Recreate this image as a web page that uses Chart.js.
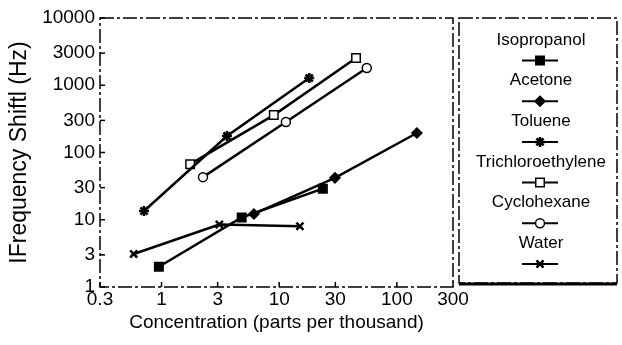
<!DOCTYPE html>
<html>
<head>
<meta charset="utf-8">
<script src="https://cdn.jsdelivr.net/npm/chart.js@4/dist/chart.umd.min.js"></script>
<style>
  html, body { margin: 0; padding: 0; background: #fff; }
  #wrap { width: 622px; height: 345px; }
</style>
</head>
<body>
<div id="wrap"><canvas id="grafico" width="622" height="345"></canvas></div>
<script>
// Dados (escala log nos dois eixos)
const seriesNames = ['Isopropanol', 'Acetone', 'Toluene', 'Trichloroethylene', 'Cyclohexane', 'Water'];

const isopropanolX = [0.95, 4.8, 23.5];
const isopropanolY = [2.0, 10.8, 29];
const acetoneX = [6.1, 29.8, 148];
const acetoneY = [12.2, 42, 195];
const tolueneX = [0.71, 3.6, 18];
const tolueneY = [13.5, 176, 1280];
const trichloroX = [1.75, 9.0, 45];
const trichloroY = [67, 360, 2540];
const cyclohexaneX = [2.25, 11.4, 55.5];
const cyclohexaneY = [43, 284, 1800];
const waterX = [0.58, 3.1, 15];
const waterY = [3.1, 8.5, 8.0];

const xTicks = [0.3, 1, 3, 10, 30, 100, 300];
const yTicks = [1, 3, 10, 30, 100, 300, 1000, 3000, 10000];

const FONT = '"Liberation Sans", Arial, Helvetica, sans-serif';

function pares(xs, ys) {
    return xs.map((x, i) => ({ x: x, y: ys[i] }));
}

function serie(nome, xs, ys, estilo, raio, preenchido) {
    return {
        label: nome,
        data: pares(xs, ys),
        showLine: true,
        borderColor: '#000',
        borderWidth: 2.5,
        pointStyle: estilo,
        pointRadius: raio,
        pointBorderWidth: estilo === 'star' || estilo === 'crossRot' ? 2.5 : 1.5,
        pointBackgroundColor: preenchido ? '#000' : '#fff',
        pointBorderColor: '#000',
        tension: 0
    };
}

const datasets = [
    serie(seriesNames[0], isopropanolX, isopropanolY, 'rect', 6, true),
    serie(seriesNames[1], acetoneX, acetoneY, 'rectRot', 5, true),
    serie(seriesNames[2], tolueneX, tolueneY, 'star', 5, true),
    serie(seriesNames[3], trichloroX, trichloroY, 'rect', 6, false),
    serie(seriesNames[4], cyclohexaneX, cyclohexaneY, 'circle', 4.5, false),
    serie(seriesNames[5], waterX, waterY, 'crossRot', 5, false)
];

// moldura tracejada e ticks para dentro
const moldura = {
    id: 'moldura',
    beforeDatasetsDraw(chart) {
        const ctx = chart.ctx;
        const a = chart.chartArea;
        const xs = chart.scales.x, ys = chart.scales.y;
        ctx.save();
        ctx.strokeStyle = '#000';
        ctx.lineWidth = 1.5;
        ctx.setLineDash([14, 3, 3, 3]);
        ctx.strokeRect(a.left, a.top, a.right - a.left, a.bottom - a.top);
        ctx.setLineDash([]);
        ctx.lineWidth = 1.5;
        yTicks.forEach(v => {
            const y = ys.getPixelForValue(v);
            ctx.beginPath(); ctx.moveTo(a.left, y); ctx.lineTo(a.left + 5, y); ctx.stroke();
        });
        xTicks.forEach(v => {
            const x = xs.getPixelForValue(v);
            ctx.beginPath(); ctx.moveTo(x, a.bottom); ctx.lineTo(x, a.bottom - 5); ctx.stroke();
        });
        ctx.restore();
    }
};

// legenda em caixa à direita, marcador abaixo do nome
const legendaCaixa = {
    id: 'legendaCaixa',
    afterDraw(chart) {
        const ctx = chart.ctx;
        const bx = 459, by = 18, bw = 158, bh = 265;
        ctx.save();
        ctx.strokeStyle = '#000';
        ctx.lineWidth = 1.5;
        ctx.setLineDash([14, 3, 3, 3]);
        ctx.strokeRect(bx, by, bw, bh);
        ctx.setLineDash([]);
        ctx.lineWidth = 3;
        ctx.beginPath(); ctx.moveTo(bx, by + bh + 1); ctx.lineTo(bx + bw, by + bh + 1); ctx.stroke();
        ctx.font = '17px ' + FONT;
        ctx.fillStyle = '#000';
        ctx.textAlign = 'center';
        ctx.textBaseline = 'middle';
        const cx = 540;
        chart.data.datasets.forEach((ds, i) => {
            const ty = 40 + i * 40.7;
            const my = ty + 20.5;
            ctx.fillText(ds.label, cx + 1, ty);
            ctx.strokeStyle = '#000';
            ctx.lineWidth = 2;
            ctx.beginPath(); ctx.moveTo(cx - 18, my); ctx.lineTo(cx + 18, my); ctx.stroke();
            ctx.fillStyle = ds.pointBackgroundColor;
            ctx.lineWidth = ds.pointBorderWidth;
            Chart.helpers.drawPoint(ctx, {
                pointStyle: ds.pointStyle,
                radius: ds.pointRadius,
                rotation: 0,
                borderWidth: ds.pointBorderWidth
            }, cx, my);
            ctx.fillStyle = '#000';
        });
        ctx.restore();
    }
};

const ctx = document.getElementById('grafico').getContext('2d');
new Chart(ctx, {
    type: 'scatter',
    data: { datasets: datasets },
    options: {
        responsive: false,
        animation: false,
        devicePixelRatio: 1,
        layout: { padding: { top: 18, right: 169, bottom: 0, left: 0 } },
        plugins: {
            legend: { display: false },
            tooltip: { enabled: false }
        },
        scales: {
            x: {
                type: 'logarithmic',
                min: 0.3,
                max: 300,
                afterBuildTicks: s => { s.ticks = xTicks.map(v => ({ value: v })); },
                afterFit: s => { s.height = 58; },
                grid: { display: false, drawTicks: false, tickLength: 0 },
                border: { display: false },
                ticks: {
                    autoSkip: false, maxRotation: 0, padding: 1,
                    color: '#000', font: { family: FONT, size: 19 },
                    callback: v => String(v)
                },
                title: {
                    display: true, text: 'Concentration (parts per thousand)',
                    color: '#000', font: { family: FONT, size: 19 },
                    padding: { top: 0, bottom: 11 }
                }
            },
            y: {
                type: 'logarithmic',
                min: 1,
                max: 10000,
                afterBuildTicks: s => { s.ticks = yTicks.map(v => ({ value: v })); },
                afterFit: s => { s.width = 100; },
                grid: { display: false, drawTicks: false, tickLength: 0 },
                border: { display: false },
                ticks: {
                    autoSkip: false, padding: 5,
                    color: '#000', font: { family: FONT, size: 19 },
                    callback: v => String(v)
                },
                title: {
                    display: true, text: 'IFrequency Shiftl (Hz)',
                    color: '#000', font: { family: FONT, size: 23 },
                    padding: { top: 6, bottom: 0 }
                }
            }
        }
    },
    plugins: [moldura, legendaCaixa]
});
</script>
</body>
</html>
